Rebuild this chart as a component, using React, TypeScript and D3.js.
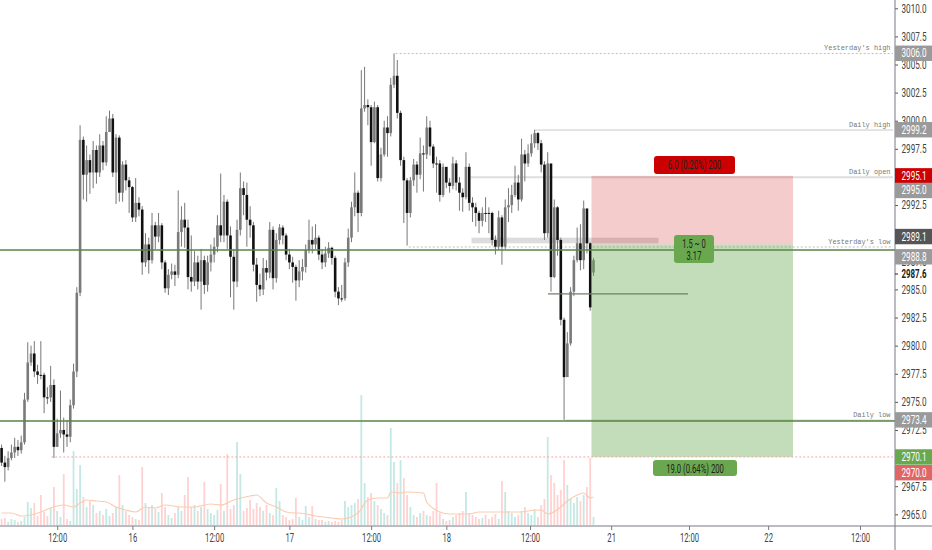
import React, { useEffect, useRef } from "react";
import * as d3 from "d3";

// 30 minute bars, ten to a row
const closes = [
  2969.6, 2969.2, 2970.0, 2970.5, 2971.0, 2970.7, 2971.4, 2975.2, 2978.5, 2979.3,
  2977.7, 2977.4, 2977.4, 2975.4, 2975.4, 2976.5, 2971.0, 2972.2, 2972.5, 2972.1,
  2971.9, 2974.7, 2977.7, 2984.7, 2998.3, 2995.2, 2996.5, 2995.4, 2997.4, 2995.4,
  2997.8, 2996.3, 2999.0, 3000.2, 2995.4, 2998.5, 2993.6, 2996.1, 2994.7, 2994.1,
  2991.4, 2992.7, 2992.1, 2987.4, 2989.0, 2987.6, 2990.7, 2989.7, 2990.7, 2987.4,
  2985.1, 2986.3, 2986.6, 2986.3, 2990.1, 2991.2, 2990.5, 2986.1, 2985.7, 2987.4,
  2985.7, 2987.6, 2985.4, 2987.4, 2988.1, 2988.8, 2990.7, 2989.8, 2992.8, 2989.8,
  2987.9, 2985.7, 2990.3, 2994.0, 2993.4, 2991.2, 2990.7, 2987.2, 2985.4, 2985.0,
  2986.9, 2986.5, 2990.3, 2986.0, 2989.4, 2990.5, 2989.8, 2988.1, 2987.4, 2987.0,
  2985.8, 2986.6, 2987.0, 2988.5, 2989.4, 2989.0, 2989.6, 2988.1, 2987.4, 2988.2,
  2988.7, 2987.8, 2984.8, 2984.2, 2984.2, 2987.4, 2989.6, 2992.3, 2993.6, 2991.8,
  3001.1, 3001.4, 3001.2, 2998.1, 3001.2, 2994.9, 2997.0, 2999.4, 2998.9, 3003.2,
  3004.0, 3000.7, 2996.5, 2994.7, 2991.8, 2994.7, 2996.1, 2995.2, 2997.1, 2997.0,
  2999.4, 2997.7, 2996.2, 2996.2, 2993.4, 2995.9, 2994.5, 2994.2, 2996.2, 2994.5,
  2993.6, 2993.2, 2995.9, 2992.7, 2992.3, 2991.8, 2991.1, 2991.8, 2991.8, 2991.8,
  2989.4, 2988.8, 2991.4, 2988.8, 2992.3, 2992.5, 2993.4, 2994.5, 2993.0, 2997.0,
  2996.2, 2997.1, 2998.0, 2998.9, 2998.0, 2996.1, 2990.0, 2996.2, 2986.1, 2992.3,
  2989.4, 2982.3, 2977.2, 2980.2, 2984.8, 2987.6, 2989.1, 2987.6, 2992.2, 2989.1,
  2983.4, 2987.6,
];

const highs = [
  2971.2, 2970.2, 2970.6, 2971.2, 2971.8, 2971.6, 2972.0, 2975.8, 2980.3, 2980.0,
  2980.4, 2978.3, 2980.4, 2977.6, 2976.3, 2978.2, 2977.0, 2973.5, 2976.0, 2973.6,
  2973.4, 2975.2, 2978.4, 2985.2, 2999.6, 2998.6, 2997.8, 2997.0, 2998.2, 2997.8,
  2998.8, 2998.2, 3000.4, 3000.9, 3000.6, 2998.8, 2998.7, 2996.4, 2996.5, 2995.0,
  2994.2, 2994.9, 2993.2, 2992.4, 2990.0, 2989.6, 2991.8, 2991.0, 2991.8, 2990.9,
  2987.6, 2986.8, 2987.3, 2987.2, 2993.8, 2992.4, 2992.7, 2991.2, 2989.8, 2988.4,
  2988.0, 2988.6, 2988.0, 2988.0, 2989.0, 2989.6, 2991.6, 2995.3, 2993.4, 2993.0,
  2990.6, 2988.6, 2991.2, 2995.4, 2994.6, 2994.5, 2992.4, 2991.0, 2987.8, 2986.4,
  2987.8, 2987.6, 2991.0, 2990.6, 2990.0, 2990.8, 2990.7, 2990.0, 2988.6, 2987.9,
  2987.2, 2987.6, 2987.7, 2989.0, 2991.2, 2990.6, 2990.8, 2989.8, 2988.6, 2988.8,
  2989.2, 2988.8, 2988.0, 2985.2, 2985.4, 2987.8, 2990.4, 2992.8, 2995.4, 2993.8,
  3004.5, 3004.8, 3001.9, 3001.4, 3001.7, 3001.4, 2997.6, 3000.0, 3000.4, 3003.8,
  3006.0, 3005.4, 3000.9, 2996.8, 2994.9, 2995.0, 2996.6, 2996.4, 2998.5, 2997.8,
  3000.4, 3000.0, 2997.9, 2996.8, 2996.5, 2996.2, 2995.8, 2994.9, 2996.8, 2996.5,
  2995.0, 2994.0, 2997.2, 2996.2, 2993.2, 2992.7, 2992.0, 2992.3, 2993.2, 2992.3,
  2991.9, 2989.8, 2992.0, 2991.6, 2993.0, 2994.0, 2994.3, 2996.0, 2995.2, 2998.4,
  2997.4, 2997.9, 2998.8, 2999.2, 2999.0, 2998.3, 2996.4, 2997.2, 2992.0, 2993.0,
  2992.4, 2989.6, 2982.5, 2981.2, 2985.2, 2988.0, 2990.5, 2990.8, 2992.9, 2990.5,
  2989.2, 2987.8,
];

const lows = [
  2969.3, 2967.9, 2968.9, 2969.8, 2970.0, 2970.2, 2970.4, 2971.2, 2975.0, 2978.2,
  2977.2, 2976.6, 2977.0, 2974.0, 2974.8, 2975.0, 2970.0, 2971.0, 2971.8, 2970.5,
  2971.0, 2971.4, 2974.4, 2977.2, 2984.4, 2993.0, 2992.8, 2993.5, 2994.0, 2994.4,
  2995.0, 2995.6, 2996.0, 2999.0, 2995.0, 2992.6, 2992.8, 2992.8, 2993.8, 2991.8,
  2991.0, 2991.0, 2991.5, 2986.3, 2987.0, 2986.4, 2987.3, 2988.6, 2989.2, 2986.8,
  2984.7, 2984.5, 2985.9, 2985.3, 2986.0, 2988.8, 2988.7, 2985.0, 2984.8, 2985.3,
  2985.0, 2983.2, 2984.6, 2984.8, 2986.6, 2987.4, 2988.3, 2989.2, 2989.2, 2988.6,
  2984.3, 2983.2, 2985.2, 2989.8, 2991.6, 2988.8, 2989.6, 2986.6, 2983.9, 2984.4,
  2984.5, 2985.8, 2986.0, 2985.0, 2985.6, 2989.0, 2989.0, 2987.6, 2986.8, 2985.6,
  2984.0, 2985.2, 2985.8, 2986.5, 2988.2, 2988.2, 2988.6, 2987.6, 2986.8, 2987.0,
  2987.8, 2987.2, 2984.3, 2983.6, 2983.9, 2984.0, 2987.0, 2989.2, 2991.5, 2990.1,
  2991.5, 3000.8, 2999.6, 2996.0, 2998.0, 2994.6, 2994.6, 2996.8, 2996.8, 2998.6,
  3002.9, 3000.2, 2996.0, 2990.9, 2988.9, 2991.4, 2994.2, 2993.6, 2994.8, 2993.7,
  2996.6, 2996.9, 2995.8, 2993.6, 2992.8, 2993.2, 2994.0, 2993.6, 2993.9, 2993.8,
  2992.0, 2991.9, 2993.0, 2992.0, 2991.0, 2990.6, 2990.0, 2990.6, 2991.0, 2990.0,
  2988.9, 2988.1, 2988.5, 2987.2, 2988.6, 2991.0, 2991.8, 2993.2, 2992.0, 2992.8,
  2994.6, 2995.9, 2996.8, 2997.6, 2997.4, 2995.4, 2989.4, 2989.6, 2984.8, 2986.0,
  2988.0, 2981.8, 2973.4, 2977.4, 2980.0, 2984.4, 2987.4, 2986.7, 2986.8, 2988.2,
  2983.1, 2986.2,
];

const firstOpen = 2970.9;
const lastOpen = 2986.5;

const volumes = [
  6, 7, 3, 6, 5, 3, 4, 8, 23, 17,
  22, 9, 30, 13, 9, 17, 38, 14, 8, 51,
  6, 4, 74, 36, 60, 28, 18, 24, 20, 12,
  14, 10, 16, 9, 12, 18, 50, 20, 14, 10,
  8, 6, 5, 58, 22, 18, 20, 16, 13, 32,
  18, 10, 7, 12, 18, 14, 30, 48, 18, 20,
  14, 18, 43, 16, 12, 10, 15, 41, 14, 71,
  16, 20, 83, 51, 14, 17, 25, 16, 22, 18,
  14, 20, 12, 10, 37, 24, 10, 8, 5, 6,
  27, 8, 5, 19, 8, 19, 6, 5, 5, 3,
  4, 3, 4, 3, 5, 24, 18, 20, 22, 26,
  130, 42, 28, 32, 24, 20, 16, 12, 10, 97,
  63, 42, 65, 47, 30, 18, 10, 8, 12, 14,
  10, 9, 14, 42, 12, 6, 4, 5, 8, 10,
  12, 14, 33, 12, 10, 8, 6, 7, 10, 6,
  8, 11, 6, 44, 33, 14, 12, 8, 10, 14,
  18, 12, 10, 16, 8, 20, 26, 88, 50, 42,
  30, 35, 65, 40, 26, 22, 28, 24, 30, 38,
  67, 8,
];
// volume bars whose colour goes against their candle in the picture
const volumeFlips = [122, 169];

const maBars = [0, 3, 6, 9, 12, 15, 17, 19, 22, 24, 26, 29, 32, 35, 38, 41, 44, 47, 50, 55, 59, 64, 67, 71, 76, 78, 81, 84, 87, 90,
  91, 96, 101, 104, 109, 112, 115, 118, 119, 122, 124, 129, 130, 134, 137, 143, 146, 152, 155, 158, 164, 165, 167, 171, 173, 176, 178, 180, 181];
const maValues = [12, 12, 9, 10, 13, 17, 19, 20, 18, 22, 25, 24, 23, 18, 15, 13, 18, 17, 20, 18, 18, 21, 20, 25, 29, 30, 22, 18, 13, 12,
  12, 9, 7, 6, 12, 25, 27, 27, 33, 32, 33, 32, 23, 13, 11, 11, 13, 13, 13, 13, 15, 15, 11, 18, 24, 30, 32, 27, 28, 26];

const priceTicks = d3.range(2965, 3010.1, 2.5);
const timeBars = [17, 40, 65, 88, 113, 136, 161.6, 186.4, 210.2, 234.4, 262.5];
const timeLabels = ["12:00", "16", "12:00", "17", "12:00", "18", "12:00", "21", "12:00", "22", "12:00"];

// right hand side price levels
const levelNames = ["Yesterday's high", "Daily high", "Daily open", "Yesterday's low", "Daily low"];
const levelPrices = [3006.0, 2999.2, 2995.0, 2988.8, 2973.4];
const levelStarts = [120.5, 163, 143.5, 124.5, 172.5];

// plates on the price axis
const plateTexts = ["3006.0", "2999.2", "2995.1", "2995.0", "2989.1", "2988.8", "2973.4", "2970.1", "2970.0"];
const platePrices = [3006.0, 2999.2, 2995.1, 2993.8, 2989.7, 2987.9, 2973.4, 2970.1, 2968.7];
const plateColors = ["#9a9a9a", "#9a9a9a", "#cc0000", "#9a9a9a", "#555555", "#9a9a9a", "#9a9a9a", "#6aa84f", "#e06666"];

const entryPrice = 2989.0;
const stopPrice = 2995.1;
const targetPrice = 2970.1;
const greenLevels = [2988.5, 2973.3];

// the reference's axis font is much narrower than anything installed, so squeeze Roboto
const fontAxis = "Roboto, sans-serif";
const charWidth = (t: string) => d3.sum(t.split(""), (c) => (c === "." || c === ":" ? 1.9 : c === " " ? 2.2 : c === "(" || c === ")" ? 2.4 : c === "%" ? 6 : 4.3));

export default function App() {
  const ref = useRef<SVGSVGElement>(null);

  useEffect(() => {
    const svg = d3.select(ref.current);
    svg.selectAll("*").remove();

    const width = 932;
    const height = 550;
    const axisX = 895;
    const axisY = 526;

    const x = d3.scaleLinear().domain([0, 181]).range([1.6, 593.5]);
    const y = d3.scaleLinear().domain([2965, 3010]).range([514.3, 8.3]);
    const yVol = d3.scaleLinear().domain([0, 130]).range([525, 395]);

    svg.append("rect").attr("width", width).attr("height", height).attr("fill", "#fff");

    const opens = closes.map((_, i) => (i === 0 ? firstOpen : i === closes.length - 1 ? lastOpen : closes[i - 1]));
    const isUp = (i: number) => closes[i] > opens[i];

    // volume
    svg.append("g")
      .selectAll("rect")
      .data(volumes)
      .join("rect")
      .attr("x", (_, i) => x(i) - 0.9)
      .attr("width", 1.8)
      .attr("y", (d) => yVol(d))
      .attr("height", (d) => yVol(0) - yVol(d))
      .attr("fill", (_, i) => (isUp(i) !== volumeFlips.includes(i) ? "#c4e8e4" : "#ffd2d2"));

    const maLine = d3.line<number>()
      .x((_, i) => x(maBars[i]))
      .y((d) => yVol(d))
      .curve(d3.curveMonotoneX);
    svg.append("path")
      .attr("d", maLine(maValues))
      .attr("fill", "none")
      .attr("stroke", "#fccbaf")
      .attr("stroke-width", 1.2);

    // level lines behind the candles
    levelPrices.forEach((p, i) => {
      const dashed = i === 0 || i === 3;
      svg.append("line")
        .attr("x1", x(levelStarts[i]))
        .attr("x2", axisX - 2)
        .attr("y1", y(p) + 0.3)
        .attr("y2", y(p) + 0.3)
        .attr("stroke", dashed ? "#bdbdbd" : i === 2 ? "#dedede" : "#c9c9c9")
        .attr("stroke-width", i === 2 ? 2 : 1)
        .attr("stroke-dasharray", dashed ? "2 2" : null);
    });

    // gray zone
    svg.append("rect")
      .attr("x", x(143.7))
      .attr("width", 187)
      .attr("y", y(2989.6))
      .attr("height", y(2989.1) - y(2989.6))
      .attr("fill", "#dcdcdc");

    // candles
    const candles = svg.append("g");
    candles.selectAll("line")
      .data(closes)
      .join("line")
      .attr("x1", (_, i) => x(i))
      .attr("x2", (_, i) => x(i))
      .attr("y1", (_, i) => y(highs[i]))
      .attr("y2", (_, i) => y(lows[i]))
      .attr("stroke", "#777")
      .attr("stroke-width", 1);
    candles.selectAll("rect")
      .data(closes)
      .join("rect")
      .attr("x", (_, i) => x(i) - 1.3)
      .attr("width", 2.6)
      .attr("y", (d, i) => y(Math.max(d, opens[i])))
      .attr("height", (d, i) => Math.max(1, Math.abs(y(d) - y(opens[i]))))
      .attr("fill", (_, i) => (isUp(i) ? "#7a7a7a" : "#111"));

    // position boxes
    svg.append("rect")
      .attr("x", 591.5)
      .attr("width", 201.5)
      .attr("y", y(stopPrice))
      .attr("height", y(entryPrice) - y(stopPrice))
      .attr("fill", "rgba(204,0,0,0.2)");
    svg.append("rect")
      .attr("x", 591.5)
      .attr("width", 201.5)
      .attr("y", y(entryPrice))
      .attr("height", y(targetPrice) - y(entryPrice))
      .attr("fill", "rgba(106,168,79,0.4)");

    // horizontal guides on top
    svg.append("line")
      .attr("x1", x(15.2))
      .attr("x2", axisX - 2)
      .attr("y1", y(targetPrice))
      .attr("y2", y(targetPrice))
      .attr("stroke", "#f4a6a6")
      .attr("stroke-width", 1)
      .attr("stroke-dasharray", "2 2");
    svg.append("line")
      .attr("x1", 548)
      .attr("x2", 688)
      .attr("y1", y(2984.6))
      .attr("y2", y(2984.6))
      .attr("stroke", "#6f7f6a")
      .attr("stroke-width", 1.2);
    greenLevels.forEach((p) => {
      svg.append("line")
        .attr("x1", 0)
        .attr("x2", axisX)
        .attr("y1", y(p))
        .attr("y2", y(p))
        .attr("stroke", "#5a8446")
        .attr("stroke-width", 1.6);
    });

    // level names
    levelNames.forEach((t, i) => {
      svg.append("text")
        .attr("x", 890.5)
        .attr("y", y(levelPrices[i]) - 3)
        .attr("text-anchor", "end")
        .attr("font-family", "'Liberation Mono', monospace")
        .attr("font-size", 8)
        .attr("textLength", t.length * 4.15)
        .attr("lengthAdjust", "spacingAndGlyphs")
        .attr("fill", "#777")
        .text(t);
    });

    // position labels
    const badge = (cx: number, top: number, w: number, h: number, fill: string, lines: string[]) => {
      svg.append("rect")
        .attr("x", cx - w / 2)
        .attr("y", top)
        .attr("width", w)
        .attr("height", h)
        .attr("rx", 3)
        .attr("fill", fill);
      lines.forEach((t, i) => {
        svg.append("text")
          .attr("x", cx)
          .attr("y", top + 13 + i * 11.5)
          .attr("text-anchor", "middle")
          .attr("font-family", fontAxis)
          .attr("font-size", 12)
          .attr("textLength", charWidth(t))
          .attr("lengthAdjust", "spacingAndGlyphs")
          .attr("fill", "#222")
          .text(t);
      });
    };
    badge(694.5, 156, 81, 18, "#cc0000", ["6.0 (0.20%) 200"]);
    badge(694, 235, 40, 28, "#6aa84f", ["1.5 ~ 0", "3.17"]);
    badge(695, 460, 84, 16, "#6aa84f", ["19.0 (0.64%) 200"]);

    // price axis
    const priceAxis = d3.axisRight(y)
      .tickValues(priceTicks)
      .tickFormat((d) => (d as number).toFixed(1))
      .tickSize(3)
      .tickPadding(3.5);
    const gp = svg.append("g").attr("transform", `translate(${axisX},0)`).call(priceAxis);
    gp.select(".domain").remove();
    gp.selectAll("line").attr("stroke", "#555");
    gp.selectAll<SVGTextElement, number>("text")
      .attr("font-family", fontAxis)
      .attr("font-size", 12)
      .attr("textLength", 25)
      .attr("lengthAdjust", "spacingAndGlyphs")
      .attr("fill", "#444");

    svg.append("line")
      .attr("x1", axisX)
      .attr("x2", axisX)
      .attr("y1", 0)
      .attr("y2", height)
      .attr("stroke", "#787b86");

    // time axis
    const timeAxis = d3.axisBottom(x)
      .tickValues(timeBars)
      .tickFormat((_, i) => timeLabels[i])
      .tickSize(4)
      .tickPadding(3);
    const gt = svg.append("g").attr("transform", `translate(0,${axisY})`).call(timeAxis);
    gt.select(".domain").remove();
    gt.selectAll("line").attr("stroke", "#787b86");
    gt.selectAll<SVGTextElement, number>("text")
      .attr("font-family", fontAxis)
      .attr("font-size", 12)
      .attr("textLength", (_, i) => charWidth(timeLabels[i]))
      .attr("lengthAdjust", "spacingAndGlyphs")
      .attr("fill", "#444");
    svg.append("line")
      .attr("x1", 0)
      .attr("x2", width)
      .attr("y1", axisY)
      .attr("y2", axisY)
      .attr("stroke", "#787b86");

    // plates
    plateTexts.forEach((t, i) => {
      svg.append("rect")
        .attr("x", axisX)
        .attr("y", y(platePrices[i]) - 7.7)
        .attr("width", width - axisX)
        .attr("height", 15.4)
        .attr("fill", plateColors[i]);
      svg.append("text")
        .attr("x", axisX + 6.5)
        .attr("y", y(platePrices[i]) + 4)
        .attr("font-family", fontAxis)
        .attr("font-size", 12)
        .attr("textLength", 25)
        .attr("lengthAdjust", "spacingAndGlyphs")
        .attr("fill", "#fff")
        .text(t);
    });

    // current price print under the plates
    svg.append("text")
      .attr("x", axisX + 6.5)
      .attr("y", 278)
      .attr("font-family", fontAxis)
      .attr("font-size", 12)
      .attr("font-weight", "bold")
      .attr("textLength", 25)
      .attr("lengthAdjust", "spacingAndGlyphs")
      .attr("fill", "#222")
      .text("2987.6");
    svg.append("line")
      .attr("x1", axisX)
      .attr("x2", axisX + 3)
      .attr("y1", 274)
      .attr("y2", 274)
      .attr("stroke", "#222");
  }, []);

  return <svg ref={ref} width={932} height={550} style={{ position: "fixed", left: 0, top: 0 }} />;
}
